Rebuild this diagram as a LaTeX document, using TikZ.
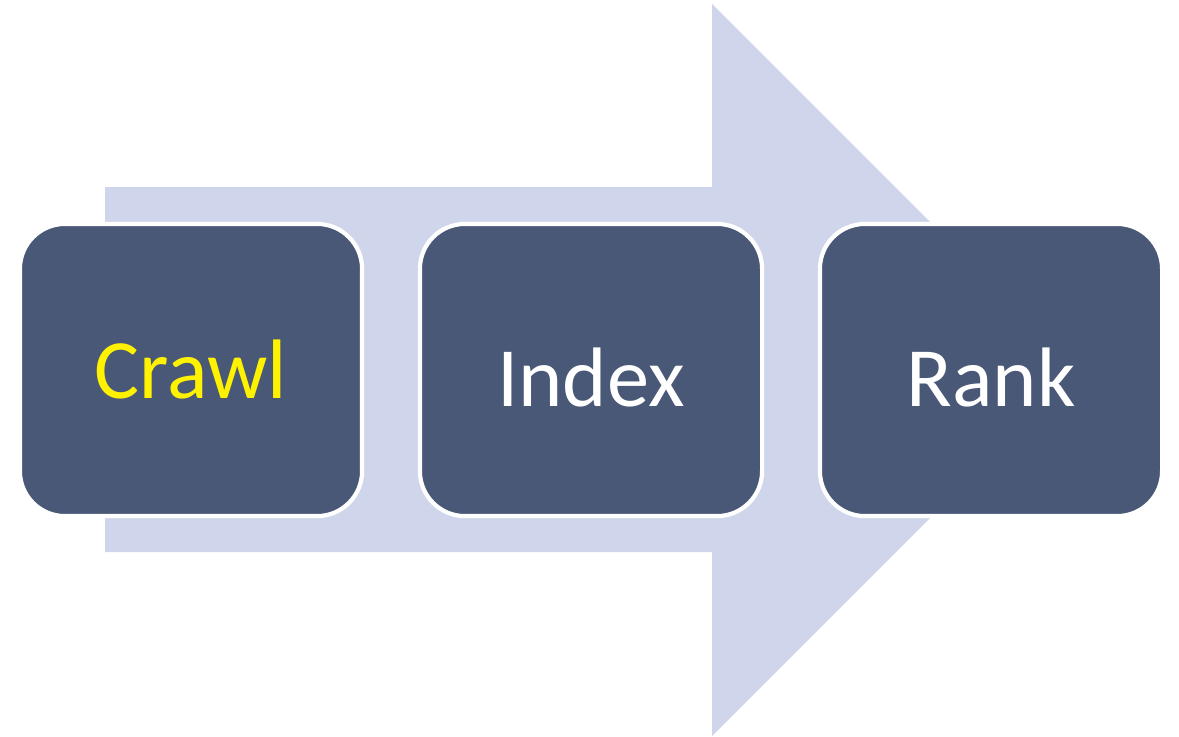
\documentclass[tikz,border=0pt]{standalone}
\usepackage{fontspec}
\setmainfont{Carlito}
\usepackage{xcolor}
\definecolor{arrowfill}{HTML}{CFD5EA}
\definecolor{boxfill}{HTML}{4A5878}

\begin{document}
\begin{tikzpicture}[x=0.01cm,y=-0.01cm,
  stagebox/.style={draw=white,line width=1.2pt,fill=boxfill,rounded corners=0.45cm,
    minimum width=3.42cm,minimum height=2.92cm,text=white,
    text height=0.72cm,text depth=0cm,
    font=\fontsize{24}{29}\selectfont}]
  \useasboundingbox (0,0) rectangle (1179,736);
  % big arrow behind the stages
  \fill[arrowfill] (105,187) -- (712,187) -- (712,4) -- (1078,370)
    -- (712,736) -- (712,552) -- (105,552) -- cycle;
  \node[stagebox,text=yellow,text height=0.56cm] (crawl) at (191,370) {Crawl};
  \node[stagebox] (index) at (591,370) {Index};
  \node[stagebox] (rank) at (991,370) {Rank};
\end{tikzpicture}
\end{document}
